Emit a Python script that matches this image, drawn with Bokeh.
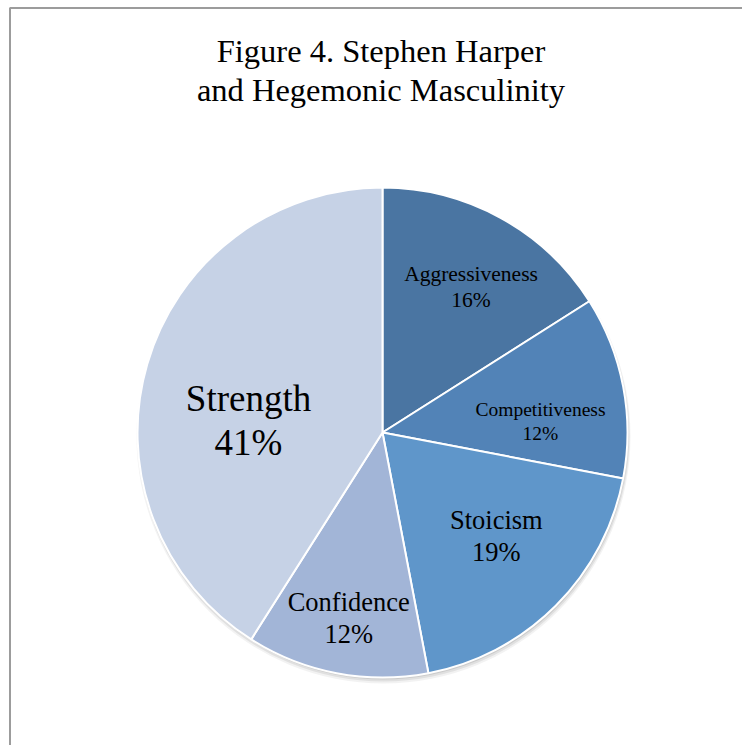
import math
from bokeh.plotting import figure
from bokeh.models import Range1d, ColumnDataSource
from bokeh.core.properties import value
from bokeh.embed import file_html
from bokeh.resources import INLINE

# ---- data ----
categories = ["Aggressiveness", "Competitiveness", "Stoicism", "Confidence", "Strength"]
shares = [16, 12, 19, 12, 41]
pct_labels = ["16%", "12%", "19%", "12%", "41%"]
title_lines = ["Figure 4. Stephen Harper", "and Hegemonic Masculinity"]

# ---- style ----
colors = ["#4a75a2", "#5283b7", "#5f96ca", "#a2b5d7", "#c6d2e6"]
label_sizes = [21.5, 19.5, 26.5, 26.5, 37]     # px
label_r = [0.667, 0.645, 0.657, 0.81, 0.547]  # fraction of radius
label_dang = [4.0, 9.5, 0.0, -1.0, -17.0]     # degrees, clockwise offset from mid-angle
FONT = "Liberation Serif"
TITLE_FS = 32.5
BASE_FIX = 0.38  # baseline correction as a fraction of font size

W, H = 742, 745
CX, CY, R = 382, H - 432, 245

p = figure(width=W, height=H, x_range=Range1d(0, W), y_range=Range1d(0, H),
           output_backend="svg", toolbar_location=None, min_border=0,
           x_axis_location=None, y_axis_location=None)
p.grid.visible = False
p.outline_line_color = None
p.background_fill_color = "white"
p.border_fill_color = "white"

# frame line (left and top edge of the chart area)
p.quad(left=[9.5], right=[W + 20], top=[H - 7.5], bottom=[-20],
       fill_color=None, line_color="#9c9c9c", line_width=2)

# soft shadow
for off, rr, a in [(4, R + 2, 0.05), (3, R + 1, 0.07), (2, R, 0.09)]:
    p.circle(x=[CX + 1], y=[CY - off], radius=rr, fill_color="black",
             fill_alpha=a, line_color=None)

# wedges
total = float(sum(shares))
starts, ends, mids = [], [], []
cum = 0.0
for s in shares:
    a0 = cum / total
    cum += s
    a1 = cum / total
    starts.append(math.pi / 2 - 2 * math.pi * a0)
    ends.append(math.pi / 2 - 2 * math.pi * a1)
    mids.append(360.0 * (a0 + a1) / 2)  # degrees clockwise from 12 o'clock

src = ColumnDataSource(dict(cat=categories, share=shares, start=starts, end=ends, color=colors))
p.wedge(x=CX, y=CY, radius=R, start_angle="start", end_angle="end", direction="clock",
        fill_color="color", line_color="white", line_width=2, source=src)

# labels
nx, ny, px_, py_, fs = [], [], [], [], []
for i, m in enumerate(mids):
    ang = math.radians(m + label_dang[i])
    d = label_r[i] * R
    ax = CX + d * math.sin(ang)
    ay = CY + d * math.cos(ang) + BASE_FIX * label_sizes[i]
    half = 0.6 * label_sizes[i]
    nx.append(ax); ny.append(ay + half)
    px_.append(ax); py_.append(ay - half)
    fs.append(f"{label_sizes[i]}px")

lsrc = ColumnDataSource(dict(x=nx, y=ny, px=px_, py=py_, name=categories, pct=pct_labels, fs=fs))
p.text(x="x", y="y", text="name", source=lsrc, text_font=value(FONT), text_font_size="fs",
       text_align="center", text_baseline="alphabetic", text_color="black")
p.text(x="px", y="py", text="pct", source=lsrc, text_font=value(FONT), text_font_size="fs",
       text_align="center", text_baseline="alphabetic", text_color="black")

# title
ty = [H - 63 + BASE_FIX * TITLE_FS, H - 102 + BASE_FIX * TITLE_FS]
tsrc = ColumnDataSource(dict(x=[380.5, 380.5], y=ty, t=title_lines))
p.text(x="x", y="y", text="t", source=tsrc, text_font=value(FONT), text_font_size=f"{TITLE_FS}px",
       text_align="center", text_baseline="alphabetic", text_color="black")

open("out.html", "w").write(file_html(p, INLINE))
